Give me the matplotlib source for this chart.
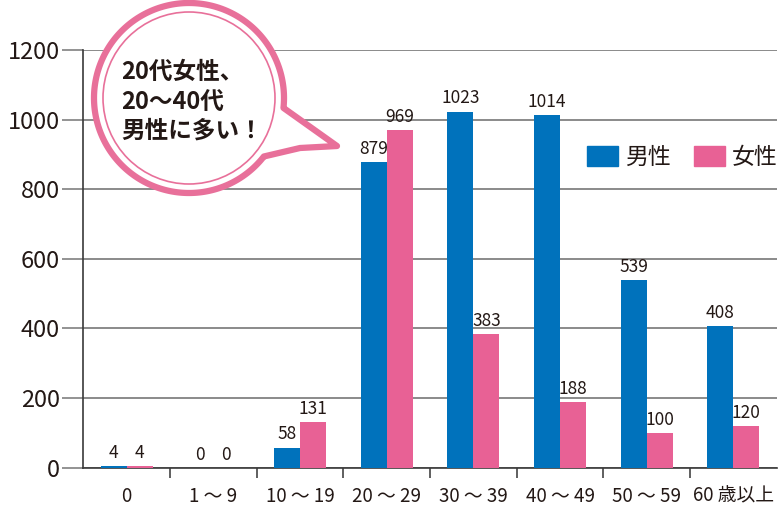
import numpy as np
import matplotlib
matplotlib.use("Agg")
import matplotlib.pyplot as plt
from matplotlib.patches import Polygon, Ellipse, Patch

plt.rcParams['font.family'] = ['Noto Sans CJK JP', 'DejaVu Sans']

# --- data ---
age_groups = ["0", "1 ～ 9", "10 ～ 19", "20 ～ 29", "30 ～ 39", "40 ～ 49", "50 ～ 59", "60 歳以上"]
male = [4, 0, 58, 879, 1023, 1014, 539, 408]
female = [4, 0, 131, 969, 383, 188, 100, 120]
series_names = ["男性", "女性"]

blue = "#0072BC"
pink = "#E86195"
txt = "#231815"

fig = plt.figure(figsize=(7.79, 5.07), dpi=100)
ax = fig.add_axes([83.3 / 779, 39.3 / 507, 693.4 / 779, 417.7 / 507])

x = np.arange(len(age_groups))
w = 0.3
b1 = ax.bar(x - w / 2, male, w, color=blue, zorder=3)
b2 = ax.bar(x + w / 2, female, w, color=pink, zorder=3)

for bars in (b1, b2):
    for r in bars:
        h = r.get_height()
        ax.annotate(f"{int(h)}", (r.get_x() + r.get_width() / 2, h),
                    xytext=(0, 3), textcoords="offset points",
                    ha="center", va="bottom", fontsize=12.5, color=txt)

ax.set_xlim(-0.5, len(age_groups) - 0.5)
ax.set_ylim(0, 1200)
ax.set_yticks(np.arange(0, 1201, 200))
ax.yaxis.grid(True, color="#8a8a8a", linewidth=1.4)
ax.set_axisbelow(True)

ax.tick_params(axis="y", length=15, width=1.3, color="#8a8a8a", pad=2,
               labelsize=17, labelcolor=txt)
ax.set_xticks(x)
ax.set_xticklabels(age_groups)
ax.tick_params(axis="x", which="major", length=0, pad=13, labelsize=13.5, labelcolor=txt)
ax.set_xticks(np.arange(0.5, len(age_groups) - 0.5, 1), minor=True)
ax.tick_params(axis="x", which="minor", length=7, width=1.2, color="#444444", direction="out")

for s in ("top", "right"):
    ax.spines[s].set_visible(False)
ax.spines["left"].set_color("#3a3a3a")
ax.spines["bottom"].set_color("#3a3a3a")
ax.spines["left"].set_linewidth(1.2)
ax.spines["bottom"].set_linewidth(1.2)

handles = [Patch(color=blue), Patch(color=pink)]
fig.legend(handles, series_names, loc="center right", bbox_to_anchor=(0.998, 1 - 157 / 507),
           ncol=2, frameon=False, fontsize=16.5, handlelength=1.35, handleheight=0.95,
           handletextpad=0.3, columnspacing=1.0, borderpad=0, borderaxespad=0,
           labelcolor=txt)

# --- speech bubble overlay, pixel coords ---
ov = fig.add_axes([0, 0, 1, 1])
ov.set_xlim(0, 779)
ov.set_ylim(507, 0)
ov.axis("off")

cx, cy, rx, ry = 189, 98, 95, 95
t1 = np.deg2rad(6)      # upper attach of tail
t2 = np.deg2rad(38)     # lower attach
t = np.linspace(t2, t1 + 2 * np.pi, 300)
pts = np.column_stack([cx + rx * np.cos(t), cy + ry * np.sin(t)])
pts = np.vstack([pts, [[337, 146], [300, 148]]])
ov.add_patch(Polygon(pts, closed=True, facecolor="white", edgecolor="#E8709A",
                     linewidth=4.5, joinstyle="round"))
ov.add_patch(Ellipse((cx, cy), 2 * (rx - 9), 2 * (ry - 9), facecolor="none",
                     edgecolor="#E8709A", linewidth=1.2))

ov.text(121, 72, "20代女性、", fontsize=17, fontweight="bold", color=txt, va="center", ha="left")
ov.text(121, 103, "20～40代", fontsize=17, fontweight="bold", color=txt, va="center", ha="left")
ov.text(121, 131, "男性に多い！", fontsize=17, fontweight="bold", color=txt, va="center", ha="left")

fig.savefig("out.png", dpi=100)
